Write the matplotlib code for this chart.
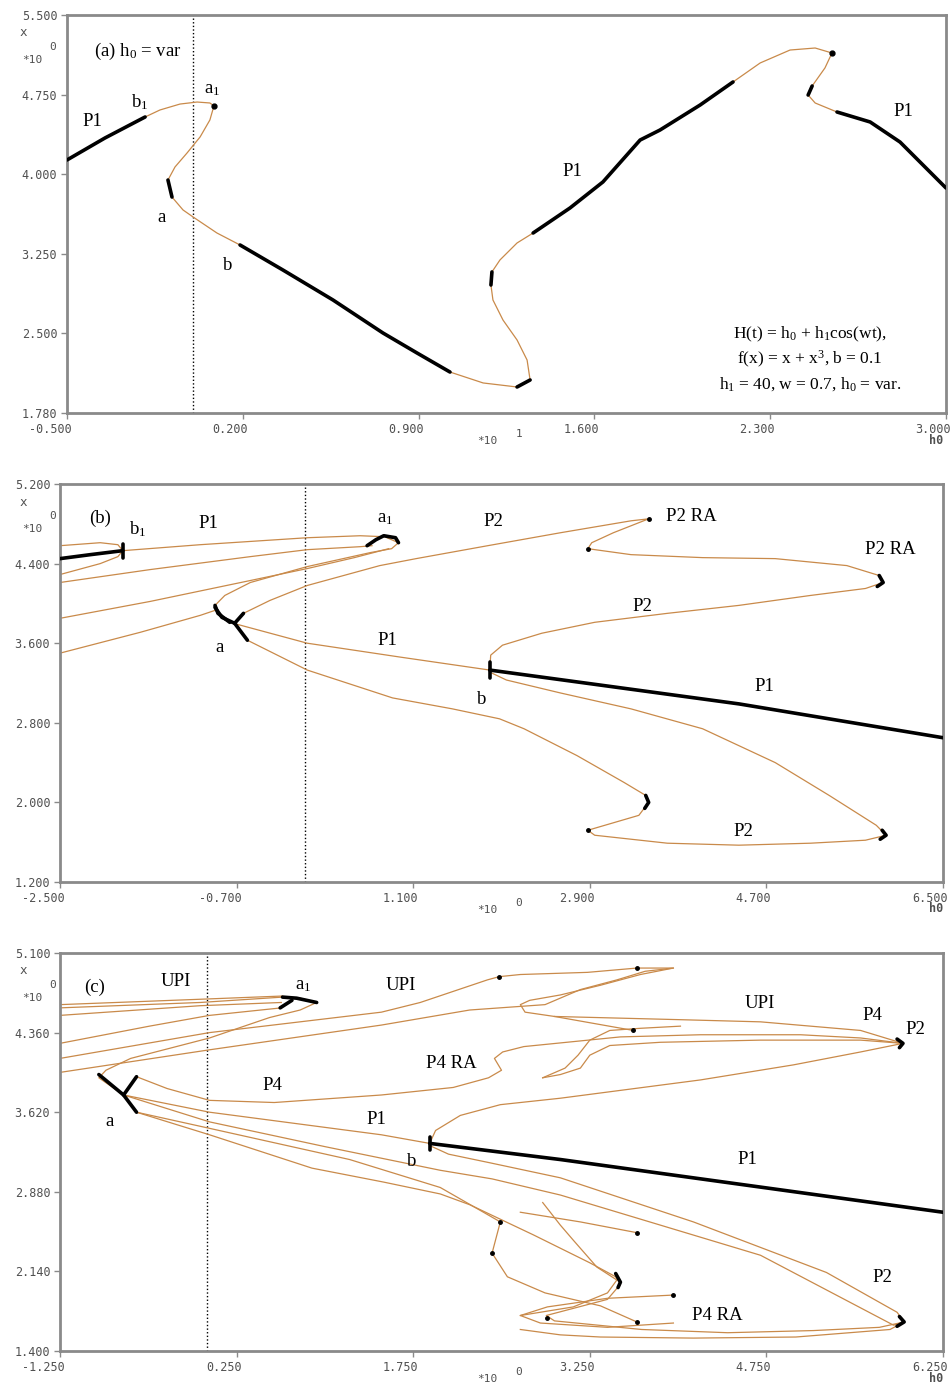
import matplotlib
matplotlib.use('Agg')
import matplotlib.pyplot as plt
from matplotlib.transforms import ScaledTranslation

plt.rcParams['mathtext.fontset'] = 'stix'
plt.rcParams['mathtext.default'] = 'regular'

# ---------------- data (h0, x) ----------------
# panel (a)
a_h0 = [-0.500,-0.349,-0.189,-0.130,-0.050,0.018,0.069,0.085,0.069,0.030,-0.022,-0.070,-0.098,-0.082,-0.038,0.002,0.097,0.189,0.360,0.559,0.758,0.894,1.025,1.157,1.292,1.344,1.332,1.292,1.236,1.196,1.188,1.192,1.224,1.292,1.356,1.503,1.634,1.782,1.861,2.021,2.152,2.260,2.379,2.479,2.546,2.518,2.467,2.451,2.479,2.566,2.698,2.817,3.000]
a_x = [4.134,4.341,4.539,4.605,4.661,4.680,4.671,4.643,4.511,4.351,4.200,4.068,3.945,3.785,3.663,3.597,3.446,3.333,3.097,2.815,2.504,2.315,2.136,2.033,1.995,2.061,2.249,2.438,2.626,2.815,2.956,3.079,3.192,3.352,3.446,3.682,3.927,4.322,4.416,4.652,4.869,5.048,5.170,5.189,5.142,5.001,4.831,4.746,4.671,4.586,4.492,4.303,3.870]
a_stable = [(0, 2), (12, 13), (17, 22), (24, 25), (30, 31), (34, 40), (46, 47), (49, 52)]
a_marks = [7, 44]

# panel (b)
b_p1_h0 = [-2.50,-2.19,-1.86,-1.07,0.02,0.56,0.81,0.95,0.88,0.66,0.02,-0.56,-0.82,-0.92,-0.89,-0.77,0.02,0.97,1.88,4.42,6.50]
b_p1_x = [4.45,4.49,4.53,4.59,4.66,4.68,4.67,4.61,4.55,4.51,4.37,4.21,4.08,3.98,3.90,3.81,3.60,3.46,3.33,2.99,2.65]
b_p1_stable = [(0, 2), (13, 15), (18, 20)]
b_loop_h0 = [-2.50,-2.09,-1.91,-1.86,-1.91,-2.09,-2.50]
b_loop_x = [4.58,4.61,4.59,4.53,4.47,4.40,4.29]
b_l1_h0 = [-2.50,-1.58,-0.56,0.02,0.56,0.68]
b_l1_x = [4.21,4.34,4.47,4.54,4.57,4.58]
b_l2_h0 = [-2.50,-1.58,-0.56,0.02,0.50,0.85]
b_l2_x = [3.85,4.02,4.23,4.35,4.46,4.55]
b_l3_h0 = [-2.50,-1.68,-1.07,-0.92]
b_l3_x = [3.50,3.71,3.88,3.93]
b_p2u_h0 = [-0.72,-0.63,-0.36,0.02,0.76,1.13,1.86,2.60,3.32,3.50,3.14,2.92,2.88,3.32,4.05,4.79,5.52,5.85,5.89,5.71,5.15,4.42,3.69,2.95,2.41,2.01,1.89,1.88]
b_p2u_x = [3.80,3.90,4.03,4.18,4.38,4.45,4.58,4.71,4.83,4.85,4.71,4.61,4.55,4.49,4.46,4.45,4.38,4.28,4.21,4.15,4.08,3.98,3.90,3.81,3.70,3.58,3.48,3.33]
b_p2l_h0 = [-0.72,-0.59,0.02,0.89,1.50,1.98,2.23,2.77,3.25,3.47,3.50,3.40,2.88,2.95,3.69,4.42,5.15,5.71,5.92,5.82,5.34,4.79,4.05,3.32,2.60,2.05,1.88]
b_p2l_x = [3.80,3.63,3.33,3.05,2.94,2.84,2.74,2.47,2.20,2.07,2.00,1.87,1.72,1.67,1.59,1.57,1.59,1.62,1.67,1.77,2.07,2.40,2.74,2.94,3.10,3.23,3.31]
b_black = [
    ([-1.86,-1.86], [4.60,4.46]),
    ([0.63,0.72,0.80,0.92,0.95], [4.58,4.64,4.68,4.66,4.61]),
    ([-0.92,-0.85,-0.72], [3.96,3.86,3.80]),
    ([-0.63,-0.72,-0.59], [3.90,3.80,3.63]),
    ([1.88,1.88], [3.41,3.25]),
    ([5.85,5.89,5.83], [4.28,4.21,4.17]),
    ([3.47,3.50,3.46], [2.07,2.00,1.94]),
    ([5.88,5.92,5.86], [1.72,1.67,1.63]),
]
b_dots_h0 = [3.50, 2.88, 2.88]
b_dots_x = [4.85, 4.55, 1.72]

# panel (c)
c_p1_h0 = [-1.25,-0.06,0.64,0.79,0.93,0.79,0.53,0.02,-0.65,-0.86,-0.92,-0.71,0.02,1.48,1.89,3.00,6.25]
c_p1_x = [4.59,4.64,4.69,4.68,4.64,4.57,4.50,4.31,4.12,4.01,3.94,3.78,3.62,3.41,3.33,3.18,2.69]
c_p1_stable = [(14, 16)]
c_u1_h0 = [-1.25,-0.06,0.64]
c_u1_x = [4.62,4.67,4.70]
c_u2_h0 = [-1.25,-0.06,0.63]
c_u2_x = [4.52,4.61,4.64]
c_u3_h0 = [-1.25,-0.49,0.02,0.63]
c_u3_x = [4.26,4.42,4.52,4.59]
c_u4_h0 = [-1.25,0.02,1.48,1.81,2.38,2.48,2.66,3.23,3.65,3.96,3.68,3.34,3.00,2.74,2.66,2.70,2.95,3.62]
c_u4_x = [4.12,4.36,4.55,4.64,4.85,4.88,4.90,4.92,4.96,4.96,4.90,4.80,4.71,4.66,4.62,4.55,4.51,4.38]
c_u5_h0 = [-1.25,0.02,1.48,2.23,2.87,3.17,3.48,3.72,3.96]
c_u5_x = [3.99,4.20,4.43,4.57,4.62,4.76,4.85,4.93,4.96]
c_ul_h0 = [2.95,4.02,4.70,5.55,5.91]
c_ul_x = [4.51,4.48,4.46,4.38,4.26]
c_p4_h0 = [-0.60,-0.34,0.02,0.57,1.48,2.09,2.39,2.50,2.44,2.51,2.69,3.51,4.19,5.04,5.55,5.91]
c_p4_x = [3.95,3.84,3.73,3.71,3.78,3.85,3.94,4.01,4.12,4.18,4.23,4.32,4.34,4.34,4.31,4.26]
c_ret_h0 = [5.91,5.55,4.70,3.85,3.42,3.25,3.17,3.00,2.85]
c_ret_x = [4.26,4.29,4.29,4.27,4.24,4.15,4.03,3.97,3.94]
c_s_h0 = [2.85,3.04,3.15,3.25,3.42,3.68,4.02]
c_s_x = [3.94,4.03,4.15,4.29,4.38,4.40,4.42]
c_p2u_h0 = [1.89,1.94,2.15,2.49,3.00,4.19,4.98,5.55,5.91]
c_p2u_x = [3.33,3.45,3.59,3.69,3.75,3.92,4.06,4.18,4.26]
c_p2l_h0 = [-0.71,-0.60,0.02,0.89,1.50,1.98,2.23,2.77,3.25,3.47,3.51,3.40,2.88,2.95,3.69,4.42,5.15,5.71,5.92,5.86,5.26,4.13,3.00,2.40,2.05,1.89]
c_p2l_x = [3.78,3.62,3.41,3.10,2.97,2.86,2.76,2.48,2.22,2.09,2.02,1.88,1.73,1.68,1.60,1.57,1.59,1.62,1.67,1.76,2.13,2.60,3.01,3.15,3.23,3.31]
c_p4l_h0 = [-0.71,0.02,1.00,1.98,2.42,3.00,4.70,5.83,5.92,5.80,5.00,4.13,3.34,3.00,2.66]
c_p4l_x = [3.78,3.53,3.30,3.08,3.00,2.85,2.29,1.64,1.67,1.60,1.53,1.52,1.53,1.55,1.60]
c_t1_h0 = [2.66,3.17,3.65]
c_t1_x = [2.69,2.60,2.50]
c_t2_h0 = [2.85,3.00,3.11,3.31,3.48,3.40,3.11,2.66,2.83,3.40,3.96]
c_t2_x = [2.78,2.57,2.43,2.18,2.06,1.94,1.81,1.73,1.66,1.62,1.66]
c_t3_h0 = [2.66,2.89,3.40,3.96]
c_t3_x = [1.73,1.81,1.89,1.92]
c_p4l2_h0 = [-0.60,0.02,1.21,1.98,2.49,2.42,2.55,2.87,3.34,3.65]
c_p4l2_x = [3.62,3.47,3.18,2.92,2.60,2.31,2.09,1.94,1.82,1.67]
c_black = [
    ([0.64,0.76,0.93], [4.69,4.68,4.64]),
    ([0.62,0.72], [4.59,4.66]),
    ([-0.92,-0.71], [3.97,3.78]),
    ([-0.60,-0.71,-0.60], [3.95,3.78,3.62]),
    ([1.89,1.89], [3.39,3.27]),
    ([5.86,5.91,5.88], [4.30,4.26,4.22]),
    ([5.88,5.92,5.86], [1.72,1.67,1.63]),
    ([3.47,3.51,3.49], [2.12,2.04,1.99]),
]
c_dots_h0 = [2.49,2.42,3.65,3.96,3.65,2.89,3.65,3.62,2.48]
c_dots_x = [2.60,2.31,2.50,1.92,1.67,1.71,4.96,4.38,4.88]

# axis ticks / labels
a_xt = [-0.5,0.2,0.9,1.6,2.3,3.0]; a_xl = ['-0.500','0.200','0.900','1.600','2.300','3.000']
a_yt = [1.75,2.5,3.25,4.0,4.75,5.5]; a_yl = ['1.780','2.500','3.250','4.000','4.750','5.500']
b_xt = [-2.5,-0.7,1.1,2.9,4.7,6.5]; b_xl = ['-2.500','-0.700','1.100','2.900','4.700','6.500']
b_yt = [1.2,2.0,2.8,3.6,4.4,5.2]; b_yl = ['1.200','2.000','2.800','3.600','4.400','5.200']
c_xt = [-1.25,0.25,1.75,3.25,4.75,6.25]; c_xl = ['-1.250','0.250','1.750','3.250','4.750','6.250']
c_yt = [1.4,2.14,2.88,3.62,4.36,5.1]; c_yl = ['1.400','2.140','2.880','3.620','4.360','5.100']

# ---------------- drawing ----------------
W, H = 953, 1386
fig = plt.figure(figsize=(W/100, H/100), dpi=100)
ORANGE = '#c98a4a'
FRAME = '#8a8a8a'
TICKC = '#505050'
SERIF = 'Liberation Serif'
MONO = 'DejaVu Sans Mono'


def axes_px(l, t, r, b):
    return fig.add_axes([l/W, 1-b/H, (r-l)/W, (b-t)/H])


def style(ax, xt, xl, yt, yl):
    ax.set_xlim(xt[0], xt[-1]); ax.set_ylim(yt[0], yt[-1])
    ax.set_xticks(xt); ax.set_xticklabels(xl)
    ax.set_yticks(yt); ax.set_yticklabels(yl)
    for s in ax.spines.values():
        s.set_color(FRAME); s.set_linewidth(2)
    ax.tick_params(direction='out', length=4, width=1, color=FRAME,
                   labelsize=8.5, labelcolor=TICKC, pad=3)
    off = ScaledTranslation(0.05, 0, fig.dpi_scale_trans)
    for lab in ax.get_xticklabels():
        lab.set_fontfamily(MONO); lab.set_horizontalalignment('right')
        lab.set_transform(lab.get_transform() + off)
    for lab in ax.get_yticklabels():
        lab.set_fontfamily(MONO)
    ax.axvline(0, color='k', lw=1, ls=(0, (1, 1.6)), zorder=1)


def curve(ax, h, x, stable=()):
    ax.plot(h, x, color=ORANGE, lw=0.9, zorder=2)
    for i, j in stable:
        ax.plot(h[i:j+1], x[i:j+1], color='k', lw=2.6, solid_capstyle='round', zorder=3)


def blacks(ax, lst):
    for h, x in lst:
        ax.plot(h, x, color='k', lw=2.6, solid_capstyle='round', zorder=3)


def T(px, py, s, size=13.5, **kw):
    fig.text(px/W, 1-py/H, s, ha=kw.pop('ha', 'center'), va='center',
             family=kw.pop('family', SERIF), fontsize=size, **kw)


def unit_labels(top, bottom, exp):
    T(23, top+18, 'x', size=9, family=MONO, color=TICKC)
    T(32, top+45, '*10', size=8, family=MONO, color=TICKC)
    T(53, top+32, '0', size=8, family=MONO, color=TICKC)
    T(487, bottom+28, '*10', size=8, family=MONO, color=TICKC)
    T(519, bottom+21, exp, size=8, family=MONO, color=TICKC)
    T(936, bottom+27, 'h0', size=8.5, family=MONO, color=TICKC, weight='bold')


# panel (a)
ax = axes_px(67, 15, 946, 413)
style(ax, a_xt, a_xl, a_yt, a_yl)
curve(ax, a_h0, a_x, a_stable)
ax.plot([a_h0[i] for i in a_marks], [a_x[i] for i in a_marks], 'o', color='k', ms=3.5, zorder=3)
unit_labels(15, 413, '1')
T(138, 51, r'(a) h$_0$ = var')
T(92, 121, 'P1'); T(140, 102, r'b$_1$'); T(212, 90, r'a$_1$')
T(162, 218, 'a'); T(228, 266, 'b'); T(572, 171, 'P1'); T(903, 111, 'P1')
T(810, 334, r'H(t) = h$_0$ + h$_1$cos(wt),', size=12.5)
T(810, 359, r'f(x) = x + x$^3$, b = 0.1', size=12.5)
T(810, 384, r'h$_1$ = 40, w = 0.7, h$_0$ = var.', size=12.5)

# panel (b)
ax = axes_px(60, 484, 943, 882)
style(ax, b_xt, b_xl, b_yt, b_yl)
curve(ax, b_p1_h0, b_p1_x, b_p1_stable)
for h, x in [(b_loop_h0, b_loop_x), (b_l1_h0, b_l1_x), (b_l2_h0, b_l2_x), (b_l3_h0, b_l3_x),
             (b_p2u_h0, b_p2u_x), (b_p2l_h0, b_p2l_x)]:
    curve(ax, h, x)
blacks(ax, b_black)
ax.plot(b_dots_h0, b_dots_x, 'o', color='k', ms=2.5, zorder=3)
unit_labels(484, 882, '0')
T(100, 518, '(b)'); T(138, 529, r'b$_1$'); T(208, 524, 'P1'); T(385, 519, r'a$_1$')
T(493, 521, 'P2'); T(691, 516, 'P2 RA'); T(890, 549, 'P2 RA'); T(642, 607, 'P2')
T(387, 640, 'P1'); T(220, 648, 'a'); T(482, 700, 'b'); T(764, 686, 'P1'); T(743, 831, 'P2')

# panel (c)
ax = axes_px(60, 953, 943, 1351)
style(ax, c_xt, c_xl, c_yt, c_yl)
curve(ax, c_p1_h0, c_p1_x, c_p1_stable)
for h, x in [(c_u1_h0, c_u1_x), (c_u2_h0, c_u2_x), (c_u3_h0, c_u3_x), (c_u4_h0, c_u4_x),
             (c_u5_h0, c_u5_x), (c_ul_h0, c_ul_x), (c_p4_h0, c_p4_x), (c_ret_h0, c_ret_x),
             (c_s_h0, c_s_x), (c_p2u_h0, c_p2u_x), (c_p2l_h0, c_p2l_x), (c_p4l_h0, c_p4l_x),
             (c_t1_h0, c_t1_x), (c_t2_h0, c_t2_x), (c_t3_h0, c_t3_x), (c_p4l2_h0, c_p4l2_x)]:
    curve(ax, h, x)
blacks(ax, c_black)
ax.plot(c_dots_h0, c_dots_x, 'o', color='k', ms=2.5, zorder=3)
unit_labels(953, 1351, '0')
T(95, 987, '(c)'); T(176, 981, 'UPI'); T(303, 986, r'a$_1$'); T(401, 986, 'UPI')
T(272, 1086, 'P4'); T(451, 1063, 'P4 RA'); T(376, 1119, 'P1'); T(110, 1122, 'a')
T(412, 1162, 'b'); T(760, 1003, 'UPI'); T(872, 1016, 'P4'); T(915, 1030, 'P2')
T(747, 1160, 'P1'); T(882, 1278, 'P2'); T(717, 1315, 'P4 RA')

fig.savefig('out.png', dpi=100)
